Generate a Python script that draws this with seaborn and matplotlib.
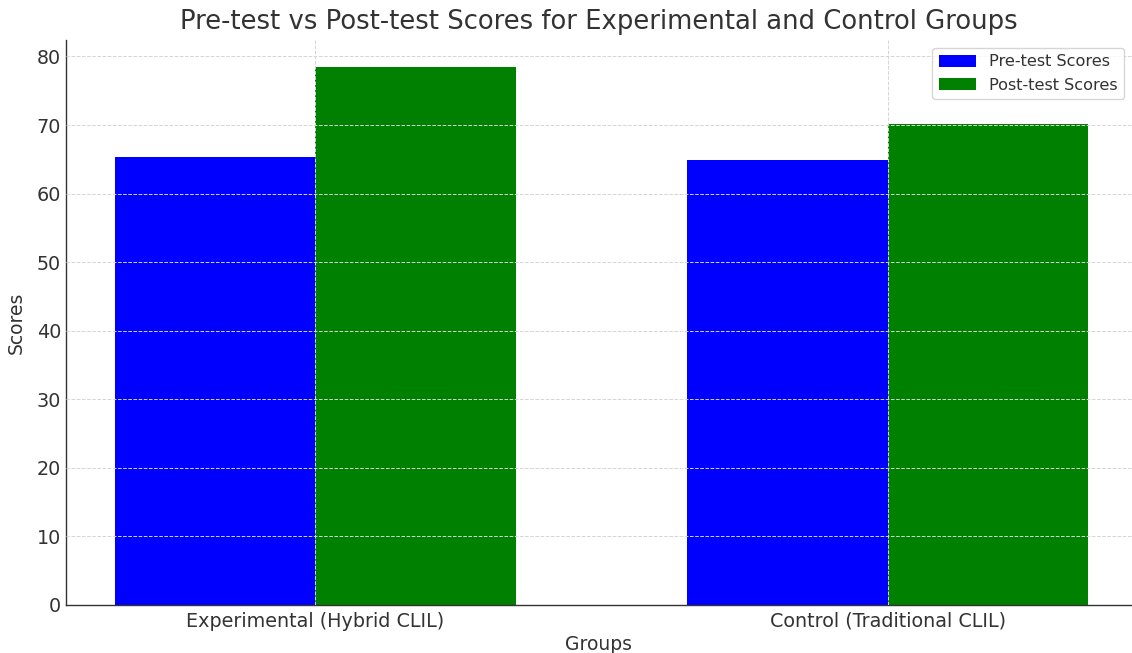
import matplotlib
matplotlib.use("Agg")
import matplotlib.pyplot as plt
import seaborn as sns
import pandas as pd

groups = ["Experimental (Hybrid CLIL)", "Control (Traditional CLIL)"]
pre_scores = [65.4, 64.9]
post_scores = [78.4, 70.1]
series_names = ["Pre-test Scores", "Post-test Scores"]

df = pd.DataFrame({
    "Groups": groups * 2,
    "Scores": pre_scores + post_scores,
    "Series": [series_names[0]] * len(groups) + [series_names[1]] * len(groups),
})

sns.set_style("white")
plt.rcParams["font.family"] = ["DejaVu Sans"]
text_color = "#333333"
plt.rcParams["text.color"] = text_color
plt.rcParams["axes.labelcolor"] = text_color
plt.rcParams["xtick.color"] = text_color
plt.rcParams["ytick.color"] = text_color

fig = plt.figure(figsize=(11.32, 6.53), dpi=100)
ax = fig.add_axes([66 / 1132, 1 - 605 / 653, 1 - 66 / 1132, (605 - 40) / 653])

sns.barplot(data=df, x="Groups", y="Scores", hue="Series",
            palette={series_names[0]: "blue", series_names[1]: "green"},
            width=0.7, saturation=1, ax=ax, errorbar=None, linewidth=0)

ax.set_xlim(-0.435, 1.426)
ax.set_ylim(0, 82.4)
ax.set_yticks(range(0, 81, 10))
ax.set_axisbelow(False)
ax.grid(True, axis="both", linestyle="--", color="#d5d5d5", linewidth=0.7)

for s in ["top", "right"]:
    ax.spines[s].set_visible(False)
for s in ["left", "bottom"]:
    ax.spines[s].set_color("#333333")
    ax.spines[s].set_linewidth(1.0)

ax.tick_params(axis="both", labelsize=13.8, direction="in", length=4, width=0.8)
ax.tick_params(axis="x", length=0, pad=5)
ax.set_xlabel("Groups", fontsize=13.5, labelpad=3)
ax.set_ylabel("Scores", fontsize=13.5, labelpad=8)
ax.set_title("Pre-test vs Post-test Scores for Experimental and Control Groups",
             fontsize=18.6, pad=8, color=text_color)

leg = ax.legend(loc="upper right", fontsize=11.6, frameon=True, title=None,
                bbox_to_anchor=(1.0, 1.0), handlelength=2.3)
leg.get_frame().set_edgecolor("#cccccc")

fig.savefig("out.png", dpi=100)
